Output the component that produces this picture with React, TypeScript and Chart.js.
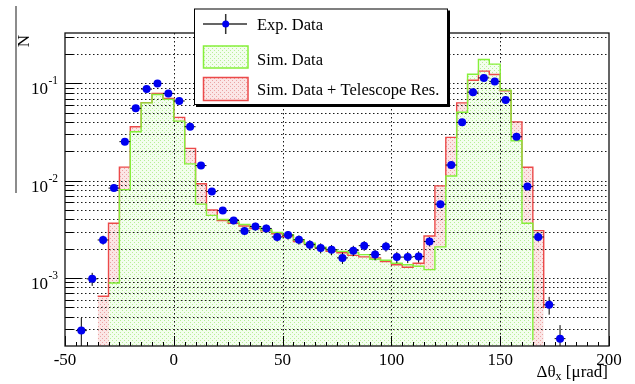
import React, { useEffect, useRef } from 'react';
import { Chart, registerables } from 'chart.js';

Chart.register(...registerables);

// ---------- data ----------
const binWidth = 5;
const binEdges = [
  -50, -45, -40, -35, -30, -25, -20, -15, -10, -5,
  0, 5, 10, 15, 20, 25, 30, 35, 40, 45,
  50, 55, 60, 65, 70, 75, 80, 85, 90, 95,
  100, 105, 110, 115, 120, 125, 130, 135, 140, 145,
  150, 155, 160, 165, 170, 175, 180, 185, 190, 195,
];

const simTelescope = [
  0, 0, 0, 6.5e-4, 3.66e-3, 0.0138, 0.0359, 0.0635, 0.079, 0.0702,
  0.0448, 0.0215, 0.0093, 5.0e-3, 3.9e-3, 3.66e-3, 3.43e-3, 3.23e-3, 3.05e-3, 2.85e-3,
  2.67e-3, 2.37e-3, 2.25e-3, 2.03e-3, 1.88e-3, 1.82e-3, 1.71e-3, 1.65e-3, 1.61e-3, 1.48e-3,
  1.37e-3, 1.29e-3, 1.42e-3, 2.7e-3, 8.85e-3, 0.0279, 0.0632, 0.108, 0.134, 0.1236,
  0.084, 0.0403, 0.01375, 3.07e-3, 4.9e-4, 0, 0, 0, 0, 0,
];

const simData = [
  0, 0, 0, 0, 8.9e-4, 8.1e-3, 0.0319, 0.0632, 0.077, 0.0686,
  0.041, 0.0149, 5.75e-3, 4.4e-3, 4.0e-3, 3.77e-3, 3.55e-3, 3.36e-3, 3.13e-3, 2.94e-3,
  2.79e-3, 2.47e-3, 2.28e-3, 2.07e-3, 1.95e-3, 1.88e-3, 1.82e-3, 1.74e-3, 1.56e-3, 1.52e-3,
  1.42e-3, 1.37e-3, 1.32e-3, 1.22e-3, 2.09e-3, 0.0112, 0.0505, 0.1245, 0.176, 0.158,
  0.0854, 0.0258, 3.66e-3, 2.3e-4, 0, 0, 0, 0, 0, 0,
];

const expCenters = [
  -42.5, -37.5, -32.5, -27.5, -22.5, -17.5, -12.5, -7.5, -2.5, 2.5,
  7.5, 12.5, 17.5, 22.5, 27.5, 32.5, 37.5, 42.5, 47.5, 52.5,
  57.5, 62.5, 67.5, 72.5, 77.5, 82.5, 87.5, 92.5, 97.5, 102.5,
  107.5, 112.5, 117.5, 122.5, 127.5, 132.5, 137.5, 142.5, 147.5, 152.5,
  157.5, 162.5, 167.5, 172.5, 177.5,
];

const expValues = [
  2.88e-4, 9.8e-4, 2.46e-3, 8.4e-3, 0.0252, 0.0555, 0.0875, 0.1, 0.079, 0.066,
  0.0359, 0.0143, 7.73e-3, 4.93e-3, 3.9e-3, 3.05e-3, 3.38e-3, 3.23e-3, 2.64e-3, 2.76e-3,
  2.47e-3, 2.2e-3, 2.03e-3, 1.95e-3, 1.61e-3, 1.91e-3, 2.15e-3, 1.74e-3, 2.11e-3, 1.64e-3,
  1.64e-3, 1.66e-3, 2.37e-3, 5.74e-3, 0.0145, 0.0398, 0.0814, 0.114, 0.105, 0.0674,
  0.0283, 8.7e-3, 2.64e-3, 5.3e-4, 2.38e-4,
];

const expErrors = [
  1.0e-4, 1.5e-4, 2.6e-4, 4.9e-4, 8.5e-4, 1.26e-3, 1.58e-3, 1.69e-3, 1.5e-3, 1.37e-3,
  1.01e-3, 6.4e-4, 4.7e-4, 3.75e-4, 3.3e-4, 2.95e-4, 3.1e-4, 3.04e-4, 2.75e-4, 2.8e-4,
  2.66e-4, 2.5e-4, 2.41e-4, 2.36e-4, 2.14e-4, 2.34e-4, 2.48e-4, 2.23e-4, 2.45e-4, 2.16e-4,
  2.16e-4, 2.18e-4, 2.6e-4, 4.05e-4, 6.4e-4, 1.07e-3, 1.52e-3, 1.8e-3, 1.73e-3, 1.39e-3,
  9e-4, 5e-4, 2.75e-4, 1.1e-4, 9e-5,
];

const xTickLabels = [-50, 0, 50, 100, 150, 200];
const xMinorStep = 5;
const yDecades = [1e-3, 1e-2, 1e-1];
const yDecadeExponents = ['-3', '-2', '-1'];
const yMinorMultipliers = [2, 3, 4, 5, 6, 7, 8, 9];
const X_MIN = -50;
const X_MAX = 200;
const Y_MIN = 2e-4;
const Y_MAX = 0.33;

const SERIF = '"Liberation Serif", "DejaVu Serif", serif';

export default function App() {
  const ref = useRef<HTMLCanvasElement | null>(null);

  useEffect(() => {
    const canvas = ref.current;
    if (!canvas) return;
    const ctx0 = canvas.getContext('2d')!;

    const makePattern = (base: string, dot: string) => {
      const c = document.createElement('canvas');
      c.width = 4;
      c.height = 4;
      const g = c.getContext('2d')!;
      g.fillStyle = base;
      g.fillRect(0, 0, 4, 4);
      g.fillStyle = dot;
      g.fillRect(0, 0, 1, 1);
      g.fillRect(2, 2, 1, 1);
      return ctx0.createPattern(c, 'repeat')!;
    };
    const greenPat = makePattern('#f3feee', '#b8ef98');
    const redPat = makePattern('#fbe6e6', '#eba3a3');

    const greenLine = '#86f03a';
    const redLine = '#ec4a4a';
    const blue = '#0000f0';

    const histPoints = (vals: number[]) => [
      ...binEdges.map((e, i) => ({ x: e, y: vals[i] })),
      { x: X_MAX, y: 0 },
    ];
    const expPoints = expCenters.map((c, i) => ({ x: c, y: expValues[i] }));

    const dotted = (ctx: CanvasRenderingContext2D, x1: number, y1: number, x2: number, y2: number) => {
      ctx.beginPath();
      ctx.moveTo(x1, y1);
      ctx.lineTo(x2, y2);
      ctx.stroke();
    };

    const yGridValues: number[] = [];
    [1e-4, 1e-3, 1e-2, 1e-1].forEach((d) => {
      [1, ...yMinorMultipliers].forEach((m) => {
        const v = m * d;
        if (v > Y_MIN * 1.001 && v < Y_MAX) yGridValues.push(v);
      });
    });

    const rootPlugin = {
      id: 'rootStyle',
      beforeDatasetsDraw(chart: any) {
        const { ctx, chartArea: a, scales } = chart;
        const x = scales.x;
        const y = scales.y;
        ctx.save();
        ctx.strokeStyle = '#1a1a1a';
        ctx.lineWidth = 1;
        ctx.setLineDash([1.5, 2.5]);
        yGridValues.forEach((v) => {
          const py = Math.round(y.getPixelForValue(v)) + 0.5;
          dotted(ctx, a.left, py, a.right, py);
        });
        xTickLabels.forEach((v) => {
          if (v <= X_MIN || v >= X_MAX) return;
          const px = Math.round(x.getPixelForValue(v)) + 0.5;
          dotted(ctx, px, a.top, px, a.bottom);
        });
        ctx.restore();
      },
      beforeDatasetDraw(chart: any, args: any) {
        if (args.index !== 2) return;
        const { ctx, chartArea: a, scales } = chart;
        const x = scales.x;
        const y = scales.y;
        ctx.save();
        ctx.beginPath();
        ctx.rect(a.left, a.top, a.right - a.left, a.bottom - a.top);
        ctx.clip();
        ctx.strokeStyle = '#000';
        ctx.lineWidth = 1;
        expCenters.forEach((c, i) => {
          const v = expValues[i];
          const e = expErrors[i];
          const px = x.getPixelForValue(c);
          const py = y.getPixelForValue(v);
          const xl = x.getPixelForValue(c - binWidth / 2);
          const xr = x.getPixelForValue(c + binWidth / 2);
          const yh = y.getPixelForValue(v + e);
          const yl = v - e > 0 ? y.getPixelForValue(v - e) : a.bottom + 5;
          ctx.beginPath();
          ctx.moveTo(xl, py);
          ctx.lineTo(xr, py);
          ctx.moveTo(px, yh);
          ctx.lineTo(px, yl);
          ctx.stroke();
        });
        ctx.restore();
      },
      afterDatasetsDraw(chart: any) {
        const { ctx, chartArea: a, scales } = chart;
        const x = scales.x;
        const y = scales.y;
        ctx.save();
        ctx.strokeStyle = '#000';
        ctx.lineWidth = 1;
        for (let v = X_MIN; v <= X_MAX; v += xMinorStep) {
          const px = Math.round(x.getPixelForValue(v)) + 0.5;
          const major = xTickLabels.includes(v);
          ctx.beginPath();
          ctx.moveTo(px, a.bottom);
          ctx.lineTo(px, a.bottom - (major ? 10 : 4));
          ctx.stroke();
        }
        yGridValues.forEach((v) => {
          const py = Math.round(y.getPixelForValue(v)) + 0.5;
          const major = yDecades.some((d) => Math.abs(d - v) / d < 1e-6);
          ctx.beginPath();
          ctx.moveTo(a.left, py);
          ctx.lineTo(a.left + (major ? 16 : 8), py);
          ctx.stroke();
        });
        ctx.lineWidth = 1.3;
        ctx.strokeStyle = '#111';
        ctx.strokeRect(a.left, a.top, a.right - a.left, a.bottom - a.top);

        ctx.fillStyle = '#000';
        ctx.font = `17px ${SERIF}`;
        ctx.textAlign = 'center';
        ctx.textBaseline = 'alphabetic';
        xTickLabels.forEach((v) => {
          ctx.fillText(String(v), x.getPixelForValue(v), a.bottom + 19);
        });
        yDecades.forEach((d, i) => {
          const py = y.getPixelForValue(d);
          ctx.font = `17px ${SERIF}`;
          ctx.textAlign = 'right';
          ctx.fillText('10', a.left - 17, py + 11);
          ctx.font = `11.5px ${SERIF}`;
          ctx.textAlign = 'left';
          ctx.fillText(yDecadeExponents[i], a.left - 16.5, py + 1);
        });

        const t1 = '\u0394\u03b8';
        const t3 = ' [\u03bcrad]';
        ctx.font = `17px ${SERIF}`;
        const w1 = ctx.measureText(t1).width;
        const w3 = ctx.measureText(t3).width;
        ctx.font = `12px ${SERIF}`;
        const w2 = ctx.measureText('x').width;
        const right = a.right + 1;
        const base = a.bottom + 31;
        let sx = right - (w1 + w2 + w3) - 2;
        ctx.textAlign = 'left';
        ctx.font = `17px ${SERIF}`;
        ctx.fillText(t1, sx, base);
        sx += w1;
        ctx.font = `12px ${SERIF}`;
        ctx.fillText('x', sx, base + 3);
        sx += w2;
        ctx.font = `17px ${SERIF}`;
        ctx.fillText(t3, sx, base);
        ctx.restore();
      },
      afterDraw(chart: any) {
        const { ctx } = chart;
        ctx.save();
        ctx.strokeStyle = '#8c8c8c';
        ctx.lineWidth = 2;
        ctx.beginPath();
        ctx.moveTo(16, 6);
        ctx.lineTo(16, 193);
        ctx.stroke();
        ctx.translate(28.5, 35);
        ctx.rotate(-Math.PI / 2);
        ctx.fillStyle = '#000';
        ctx.font = `17px ${SERIF}`;
        ctx.textAlign = 'right';
        ctx.textBaseline = 'alphabetic';
        ctx.fillText('N', 0, 0);
        ctx.restore();

        const ds = chart.data.datasets;
        const L = 194, T = 8.5, R = 448, B = 105;
        ctx.save();
        ctx.fillStyle = '#000';
        ctx.fillRect(L + 2, T + 2, R - L, B - T);
        ctx.fillStyle = '#fff';
        ctx.fillRect(L, T, R - L, B - T);
        ctx.strokeStyle = '#000';
        ctx.lineWidth = 1;
        ctx.strokeRect(L + 0.5, T + 0.5, R - L - 1, B - T - 1);

        ctx.strokeStyle = '#333';
        ctx.lineWidth = 1.5;
        ctx.beginPath();
        ctx.moveTo(203, 24);
        ctx.lineTo(247, 24);
        ctx.moveTo(225.7, 14);
        ctx.lineTo(225.7, 34);
        ctx.stroke();
        ctx.fillStyle = ds[2].backgroundColor;
        ctx.beginPath();
        ctx.arc(225.7, 24, 3.5, 0, Math.PI * 2);
        ctx.fill();

        ctx.fillStyle = ds[1].backgroundColor;
        ctx.fillRect(203.5, 46, 44.5, 22);
        ctx.strokeStyle = ds[1].borderColor;
        ctx.lineWidth = 1.5;
        ctx.strokeRect(203.5, 46, 44.5, 22);

        ctx.fillStyle = ds[0].backgroundColor;
        ctx.fillRect(203.5, 77.5, 44.5, 23);
        ctx.strokeStyle = ds[0].borderColor;
        ctx.strokeRect(203.5, 77.5, 44.5, 23);

        ctx.fillStyle = '#000';
        ctx.font = `16.5px ${SERIF}`;
        ctx.textAlign = 'left';
        ctx.textBaseline = 'alphabetic';
        ctx.fillText(ds[2].label, 257, 29.5);
        ctx.fillText(ds[1].label, 257, 65);
        ctx.fillText(ds[0].label, 257, 94.5);
        ctx.restore();
      },
    };

    const chart = new Chart(canvas, {
      type: 'line',
      data: {
        datasets: [
          {
            label: 'Sim. Data + Telescope Res.',
            data: histPoints(simTelescope),
            stepped: true,
            borderColor: redLine,
            borderWidth: 1.4,
            backgroundColor: redPat as any,
            fill: 'start',
            pointRadius: 0,
            order: 2,
          } as any,
          {
            label: 'Sim. Data',
            data: histPoints(simData),
            stepped: true,
            borderColor: greenLine,
            borderWidth: 1.4,
            backgroundColor: greenPat as any,
            fill: 'start',
            pointRadius: 0,
            order: 1,
          } as any,
          {
            label: 'Exp. Data',
            data: expPoints,
            showLine: false,
            pointRadius: 4,
            pointHoverRadius: 4,
            pointBackgroundColor: blue,
            backgroundColor: blue,
            borderColor: blue,
            pointBorderWidth: 0,
            fill: false,
            order: 0,
          } as any,
        ],
      },
      options: {
        responsive: false,
        animation: false,
        events: [],
        layout: { padding: { left: 65, top: 33, right: 26, bottom: 38 } },
        scales: {
          x: { type: 'linear', min: X_MIN, max: X_MAX, display: false },
          y: { type: 'logarithmic', min: Y_MIN, max: Y_MAX, display: false },
        },
        plugins: {
          legend: { display: false },
          tooltip: { enabled: false },
          filler: { drawTime: 'beforeDatasetsDraw' },
        } as any,
      },
      plugins: [rootPlugin as any],
    });

    return () => chart.destroy();
  }, []);

  return (
    <div style={{ position: 'absolute', left: 0, top: 0, width: 635, height: 384, background: '#fff' }}>
      <canvas ref={ref} width={635} height={384} style={{ display: 'block', width: 635, height: 384 }} />
    </div>
  );
}
